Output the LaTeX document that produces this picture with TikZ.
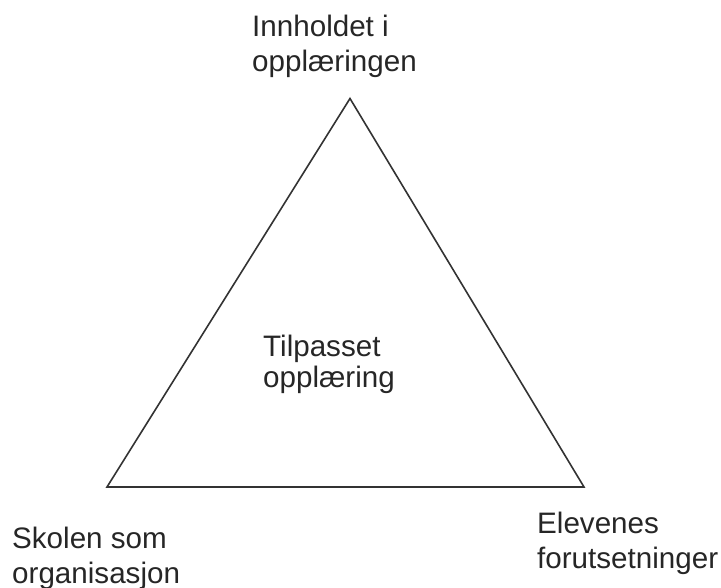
\documentclass[tikz,border=0pt]{standalone}
\usepackage{fontspec}
\setmainfont{Liberation Sans}
\begin{document}
\begin{tikzpicture}[x=1pt,y=-1pt,
  lbl/.style={anchor=base west,inner sep=0pt,align=left,text=black!85,font=\fontsize{29.6}{35.5}\selectfont},
  edge/.style={draw=black!80,line width=1.6pt,line join=miter}]
\useasboundingbox (0,0) rectangle (721,588);
\coordinate (top) at (350,98.5);
\coordinate (bl) at (107,487);
\coordinate (br) at (584,487);
\draw[edge] (top) -- (bl) -- (br) -- cycle;
\node[lbl] (inn) at (252,72) {Innholdet i\\opplæringen};
\node[lbl,font=\fontsize{29.6}{31}\selectfont] (til) at (263,388) {Tilpasset\\opplæring};
\node[lbl,font=\fontsize{29.6}{35}\selectfont] (sko) at (12,583) {Skolen som\\organisasjon};
\node[lbl,font=\fontsize{29.6}{35}\selectfont] (ele) at (537,568) {Elevenes\\forutsetninger};
\end{tikzpicture}
\end{document}
